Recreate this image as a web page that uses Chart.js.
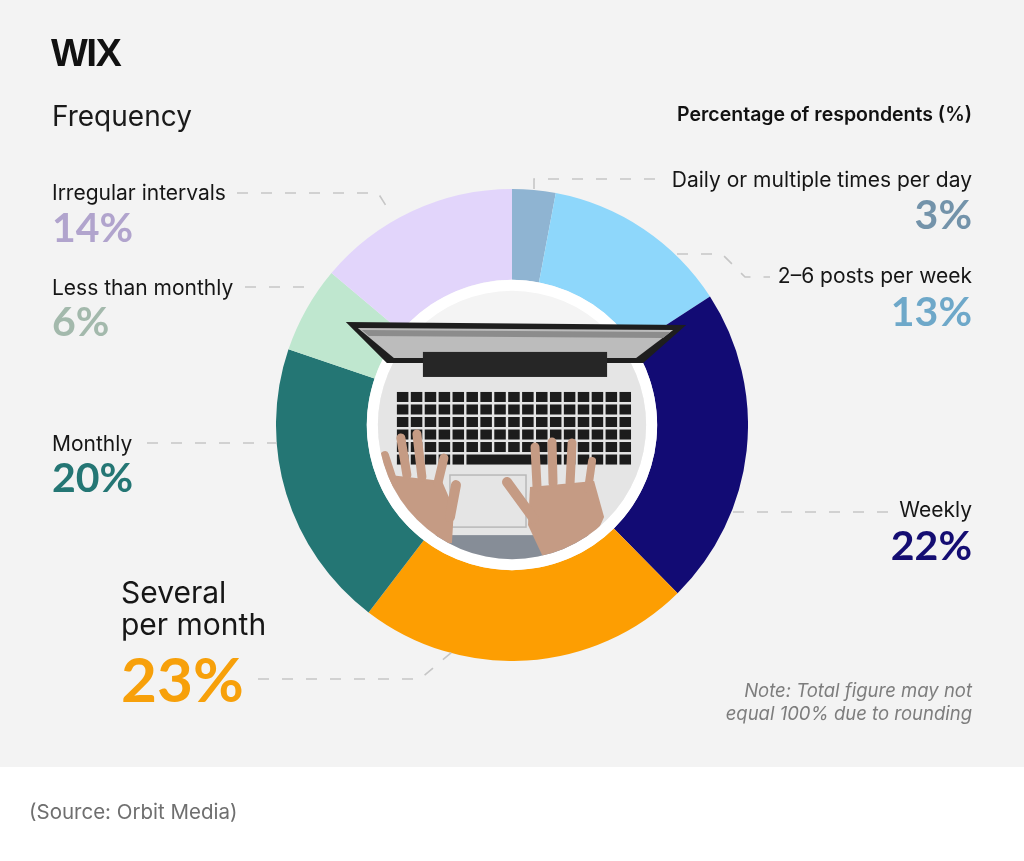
<!DOCTYPE html>
<html>
<head>
<meta charset="utf-8">
<script src="https://cdn.jsdelivr.net/npm/chart.js@4"></script>
<style>
  html, body { margin: 0; padding: 0; background: #fff; width: 1024px; height: 861px; overflow: hidden; }
  #panel { position: absolute; left: 0; top: 0; width: 1024px; height: 767px; background: #f3f3f3; }
  #ring { position: absolute; left: 276px; top: 189px; width: 472px; height: 472px; }
  #overlay { position: absolute; left: 0; top: 0; pointer-events: none; font-family: Inter, "Noto Sans", sans-serif; }
</style>
</head>
<body>
<div id="panel"></div>
<div id="ring"><canvas id="freqChart"></canvas></div>
<svg id="overlay" width="1024" height="861" xmlns="http://www.w3.org/2000/svg"></svg>
<script>
// Data (clockwise from 12 o'clock)
const categories = ['Daily or multiple times per day', '2–6 posts per week', 'Weekly',
    'Several per month', 'Monthly', 'Less than monthly', 'Irregular intervals'];
const shares = [3, 13, 22, 23, 20, 6, 14];
const sliceColors = ['#8fb4d2', '#8ed7fb', '#120b74', '#fd9e02', '#247674', '#bfe7cf', '#e2d5fb'];
const pctColors = ['#7393aa', '#6ea8c9', '#140d72', '#f7a00a', '#247674', '#a3b9ac', '#b1a4cd'];

// Label layout (baseline positions)
const labelSpots = [
    { x: 972, anchor: 'end', nameY: [187], pctY: 229 },
    { x: 972, anchor: 'end', nameY: [283], pctY: 326 },
    { x: 972, anchor: 'end', nameY: [517], pctY: 560 },
    { x: 121, anchor: 'start', nameY: [603, 635], pctY: 702, nameSize: 30, pctSize: 62 },
    { x: 52, anchor: 'start', nameY: [451], pctY: 492 },
    { x: 52, anchor: 'start', nameY: [295], pctY: 336 },
    { x: 52, anchor: 'start', nameY: [200], pctY: 242 }
];

// Dashed leader lines
const leaderPaths = [
    [[655, 179], [534, 179], [534, 189]],
    [[677, 254], [722, 254], [745, 277], [770, 277]],
    [[733, 512], [893, 512]],
    [[258, 679], [420, 679], [452, 652]],
    [[147, 443], [277, 443]],
    [[245, 287], [306, 287]],
    [[237, 193], [378, 193], [390, 212]]
];

const SVG_NS = 'http://www.w3.org/2000/svg';
const overlay = document.getElementById('overlay');
const NUM_FONT = 'Lato, "Noto Sans", sans-serif';

function addText(str, x, y, opts) {
    const t = document.createElementNS(SVG_NS, 'text');
    t.setAttribute('x', x);
    t.setAttribute('y', y);
    t.setAttribute('text-anchor', opts.anchor || 'start');
    t.setAttribute('font-size', opts.size);
    t.setAttribute('font-weight', opts.weight || 400);
    t.setAttribute('fill', opts.color || '#111');
    if (opts.family) t.setAttribute('font-family', opts.family);
    if (opts.italic) t.setAttribute('font-style', 'italic');
    if (opts.spacing) t.setAttribute('letter-spacing', opts.spacing);
    t.textContent = str;
    overlay.appendChild(t);
}

function drawOverlay() {
    leaderPaths.forEach(pts => {
        const p = document.createElementNS(SVG_NS, 'polyline');
        p.setAttribute('points', pts.map(q => q.join(',')).join(' '));
        p.setAttribute('fill', 'none');
        p.setAttribute('stroke', '#c6c6c6');
        p.setAttribute('stroke-width', '1.6');
        p.setAttribute('stroke-dasharray', '11 13');
        overlay.appendChild(p);
    });

    addText('WIX', 51, 66, { size: 39, weight: 700, family: '"Liberation Sans", Arial, sans-serif', spacing: -1.5, color: '#111' });
    addText('Frequency', 52, 126, { size: 28, color: '#1a1a1a' });
    addText('Percentage of respondents (%)', 972, 121, { size: 19.5, weight: 600, anchor: 'end', color: '#111' });

    categories.forEach((name, i) => {
        const spot = labelSpots[i];
        const lines = spot.nameY.length > 1
            ? [name.slice(0, name.indexOf(' ')), name.slice(name.indexOf(' ') + 1)]
            : [name];
        lines.forEach((ln, k) => {
            addText(ln, spot.x, spot.nameY[k], { size: spot.nameSize || 21, anchor: spot.anchor, color: '#161616' });
        });
        addText(shares[i] + '%', spot.x, spot.pctY, {
            size: spot.pctSize || 41, weight: 700, anchor: spot.anchor, color: pctColors[i], family: NUM_FONT
        });
    });

    addText('Note: Total figure may not', 972, 697, { size: 18.5, italic: true, anchor: 'end', color: '#7d7d7d' });
    addText('equal 100% due to rounding', 972, 720, { size: 18.5, italic: true, anchor: 'end', color: '#7d7d7d' });
    addText('(Source: Orbit Media)', 29, 819, { size: 20.5, color: '#6f6f6f' });
}

// Laptop photo stand-in drawn in the doughnut hole
const photoPlugin = {
    id: 'photo',
    afterDatasetsDraw(chart) {
        const arc = chart.getDatasetMeta(0).data[0];
        if (!arc) return;
        const { x: cx, y: cy, innerRadius: ir } = arc.getProps(['x', 'y', 'innerRadius'], true);
        const ctx = chart.ctx;
        const s = ir / 145;
        const poly = (pts, fill) => {
            ctx.beginPath();
            pts.forEach((p, k) => k ? ctx.lineTo(p[0], p[1]) : ctx.moveTo(p[0], p[1]));
            ctx.closePath();
            ctx.fillStyle = fill;
            ctx.fill();
        };
        const finger = (a, b, w) => {
            ctx.lineWidth = w || 9;
            ctx.beginPath();
            ctx.moveTo(a[0], a[1]);
            ctx.lineTo(b[0], b[1]);
            ctx.stroke();
        };

        ctx.save();
        ctx.translate(cx, cy);
        ctx.scale(s, s);

        ctx.beginPath();
        ctx.arc(0, 0, 145, 0, Math.PI * 2);
        ctx.fillStyle = '#ffffff';
        ctx.fill();

        ctx.save();
        ctx.beginPath();
        ctx.arc(0, 0, 134, 0, Math.PI * 2);
        ctx.clip();
        ctx.fillStyle = '#f4f4f4';
        ctx.fillRect(-140, -140, 280, 280);
        // laptop body + jeans
        ctx.fillStyle = '#e5e5e5';
        ctx.fillRect(-140, -62, 280, 172);
        ctx.fillStyle = '#868d97';
        ctx.fillRect(-140, 110, 280, 40);
        // keyboard
        ctx.fillStyle = '#1c1c1c';
        for (let r = 0; r < 6; r++) {
            for (let c = 0; c < 17; c++) {
                if (r === 5 && c > 4 && c < 11) continue;
                ctx.fillRect(-115 + c * 13.9, -33 + r * 12.5, 11.5, 10);
            }
        }
        ctx.fillRect(-115 + 5 * 13.9, -33 + 5 * 12.5, 6 * 13.9 - 2.4, 10);
        // touchpad
        ctx.strokeStyle = '#b9b9b9';
        ctx.lineWidth = 1.5;
        ctx.strokeRect(-62, 50, 76, 52);
        // hands
        ctx.strokeStyle = '#c59b84';
        ctx.lineCap = 'round';
        poly([[-122, 50], [-70, 56], [-58, 84], [-60, 118], [-84, 120], [-104, 92], [-124, 70]], '#c59b84');
        finger([-118, 58], [-127, 30], 8);
        finger([-105, 50], [-111, 13], 9);
        finger([-90, 52], [-95, 9], 9);
        finger([-74, 58], [-68, 33], 9);
        finger([-62, 92], [-56, 60], 10);
        poly([[18, 62], [82, 56], [92, 92], [74, 132], [32, 134], [16, 100]], '#c59b84');
        finger([25, 62], [23, 22], 9);
        finger([41, 58], [40, 17], 9);
        finger([58, 58], [60, 18], 9);
        finger([76, 64], [80, 36], 8);
        finger([22, 94], [-5, 57], 10);
        ctx.restore();

        // screen lid (overlaps the ring)
        poly([[-166, -103], [174, -100], [131, -62], [-125, -62]], '#1e1e1e');
        poly([[-154, -97], [161, -95], [124, -67], [-118, -67]], '#bcbcbc');
        poly([[-150, -95], [158, -93], [151, -87], [-143, -89]], '#8c8c8c');
        ctx.fillStyle = '#262626';
        ctx.fillRect(-89, -73, 184, 25);
        ctx.restore();
    }
};

drawOverlay();

new Chart(document.getElementById('freqChart'), {
    type: 'doughnut',
    data: {
        labels: categories,
        datasets: [{
            data: shares,
            backgroundColor: sliceColors,
            borderWidth: 0,
            hoverOffset: 0,
            offset: 0
        }]
    },
    options: {
        responsive: true,
        maintainAspectRatio: false,
        animation: false,
        events: [],
        cutout: '61.5%',
        layout: { padding: 0 },
        plugins: {
            legend: { display: false },
            tooltip: { enabled: false }
        }
    },
    plugins: [photoPlugin]
});
</script>
</body>
</html>
